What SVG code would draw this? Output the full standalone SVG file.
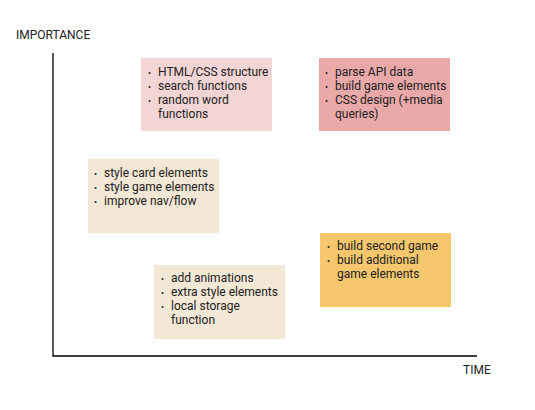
<svg xmlns="http://www.w3.org/2000/svg" width="535" height="410" viewBox="0 0 535 410">
<style>
text{font-family:Roboto,"Liberation Sans",sans-serif;font-size:12px;fill:#212121}
.axis{stroke:#000;stroke-width:1.3;fill:none}
.b{font-size:9px}
</style>
<rect width="535" height="410" fill="#fff"/>
<g id="connectors">
<path class="axis" d="M53,53 V356 H477"/>
</g>
<g id="label-importance"><text x="16" y="39">IMPORTANCE</text></g>
<g id="label-time"><text x="463" y="374">TIME</text></g>
<g id="box1">
<rect x="141" y="58" width="131" height="73" fill="#f4d5d5"/>
<text x="148" y="76" class="b">•</text><text x="158" y="76">HTML/CSS structure</text>
<text x="148" y="90" class="b">•</text><text x="158" y="90">search functions</text>
<text x="148" y="104" class="b">•</text><text x="158" y="104">random word</text>
<text x="158" y="118">functions</text>
</g>
<g id="box2">
<rect x="319" y="58" width="131" height="73" fill="#eaa9a9"/>
<text x="325" y="76" class="b">•</text><text x="335" y="76">parse API data</text>
<text x="325" y="90" class="b">•</text><text x="335" y="90">build game elements</text>
<text x="325" y="104" class="b">•</text><text x="335" y="104">CSS design (+media</text>
<text x="335" y="118">queries)</text>
</g>
<g id="box3">
<rect x="88" y="159" width="131" height="74" fill="#f3e7d6"/>
<text x="94" y="177" class="b">•</text><text x="104" y="177">style card elements</text>
<text x="94" y="191" class="b">•</text><text x="104" y="191">style game elements</text>
<text x="94" y="205" class="b">•</text><text x="104" y="205">improve nav/flow</text>
</g>
<g id="box4">
<rect x="154" y="265" width="131" height="74" fill="#f3e7d6"/>
<text x="161" y="282" class="b">•</text><text x="171" y="282">add animations</text>
<text x="161" y="296" class="b">•</text><text x="171" y="296">extra style elements</text>
<text x="161" y="310" class="b">•</text><text x="171" y="310">local storage</text>
<text x="171" y="324">function</text>
</g>
<g id="box5">
<rect x="320" y="233" width="131" height="74" fill="#f7c76d"/>
<text x="327" y="250" class="b">•</text><text x="337" y="250">build second game</text>
<text x="327" y="264" class="b">•</text><text x="337" y="264">build additional</text>
<text x="337" y="278">game elements</text>
</g>
</svg>
